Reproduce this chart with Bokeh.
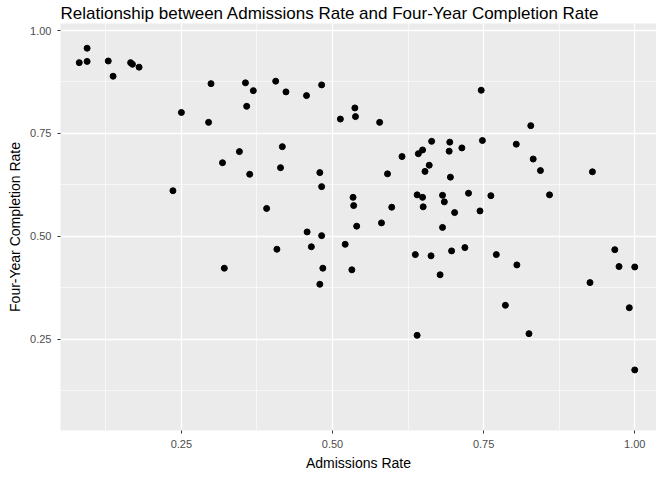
from bokeh.plotting import figure
from bokeh.models import FixedTicker, PrintfTickFormatter
from bokeh.embed import file_html
from bokeh.resources import INLINE

admit = [0.081, 0.094, 0.094, 0.129, 0.137, 0.166, 0.169, 0.180, 0.299, 0.356,
         0.369, 0.406, 0.423, 0.457, 0.482, 0.250, 0.295, 0.358, 0.513, 0.537,
         0.538, 0.417, 0.346, 0.318, 0.363, 0.414, 0.479, 0.482, 0.236, 0.534,
         0.535, 0.540, 0.391, 0.458, 0.482, 0.465, 0.408, 0.521, 0.321, 0.484,
         0.532, 0.479,
         0.578, 0.746, 0.828, 0.664, 0.694, 0.748, 0.804, 0.649, 0.642, 0.693,
         0.714, 0.615, 0.660, 0.653, 0.695, 0.832, 0.844, 0.930, 0.591, 0.640,
         0.649, 0.682, 0.725, 0.762, 0.859, 0.685, 0.650, 0.598, 0.702, 0.744,
         0.581, 0.682, 0.637, 0.663, 0.697, 0.719, 0.771, 0.805, 0.678, 0.967,
         0.974, 1.000, 0.926, 0.786, 0.991, 0.640, 0.825, 1.000]
complete = [0.922, 0.957, 0.925, 0.926, 0.889, 0.922, 0.918, 0.911, 0.871, 0.873,
            0.854, 0.877, 0.851, 0.842, 0.868, 0.801, 0.777, 0.816, 0.785, 0.812,
            0.791, 0.718, 0.706, 0.679, 0.651, 0.667, 0.655, 0.621, 0.611, 0.595,
            0.575, 0.525, 0.568, 0.511, 0.502, 0.475, 0.469, 0.481, 0.423, 0.423,
            0.419, 0.384,
            0.777, 0.855, 0.769, 0.731, 0.729, 0.733, 0.724, 0.710, 0.701, 0.707,
            0.715, 0.694, 0.673, 0.658, 0.644, 0.688, 0.660, 0.657, 0.652, 0.601,
            0.595, 0.600, 0.605, 0.599, 0.601, 0.584, 0.572, 0.571, 0.558, 0.562,
            0.533, 0.522, 0.456, 0.453, 0.465, 0.473, 0.456, 0.431, 0.407, 0.468,
            0.427, 0.426, 0.388, 0.333, 0.327, 0.260, 0.264, 0.176]

major = [0.25, 0.50, 0.75, 1.00]
minor = [0.125, 0.375, 0.625, 0.875]

p = figure(width=656, height=464, frame_width=596, frame_height=407,
           x_range=(0.05, 1.036), y_range=(0.029, 1.017),
           output_backend="svg", toolbar_location=None,
           min_border_left=60, min_border_bottom=40, min_border_right=0,
           background_fill_color="#EBEBEB", border_fill_color="white",
           outline_line_color=None)
p.title.text = "Relationship between Admissions Rate and Four-Year Completion Rate"
p.title.text_font = "Liberation Sans"
p.title.text_font_size = "17px"
p.title.text_font_style = "normal"
p.title.text_color = "black"
p.title.standoff = 2

p.scatter(admit, complete, size=6, color="black")

for ax, lab in ((p.xaxis, "Admissions Rate"), (p.yaxis, "Four-Year Completion Rate")):
    ax.ticker = FixedTicker(ticks=major, minor_ticks=minor)
    ax.formatter = PrintfTickFormatter(format="%.2f")
    ax.axis_label = lab
    ax.axis_label_text_font = "Liberation Sans"
    ax.axis_label_text_font_size = "14px"
    ax.axis_label_text_font_style = "normal"
    ax.axis_label_text_color = "black"
    ax.axis_label_standoff = 4
    ax.major_label_text_font = "Liberation Sans"
    ax.major_label_text_font_size = "11px"
    ax.major_label_text_color = "#4D4D4D"
    ax.axis_line_color = None
    ax.major_tick_line_color = "#333333"
    ax.major_tick_out = 3
    ax.major_tick_in = 0
    ax.minor_tick_line_color = None

for g in (p.xgrid, p.ygrid):
    g.grid_line_color = "white"
    g.grid_line_width = 1.3
    g.minor_grid_line_color = "white"
    g.minor_grid_line_width = 0.6

open("out.html", "w").write(file_html(p, INLINE))
